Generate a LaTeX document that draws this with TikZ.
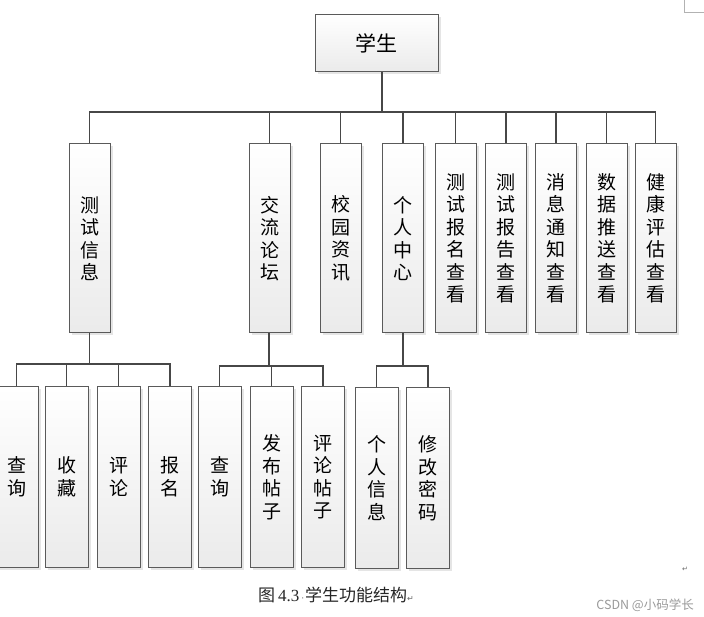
\documentclass[tikz,border=0pt]{standalone}
\usepackage{fontspec}
\setmainfont{Liberation Serif}
\newfontfamily\cjk{Noto Sans CJK SC}
\newfontfamily\symf{DejaVu Sans}
\usetikzlibrary{shadows}
\definecolor{boxgray}{HTML}{5A5A5A}
\definecolor{linegray}{HTML}{474747}
\begin{document}
\begin{tikzpicture}[x=1pt,y=-1pt,
  box/.style={draw=boxgray, line width=1pt, top color=white, bottom color=black!8,
    drop shadow={shadow xshift=2.5pt, shadow yshift=-2.5pt, fill=black!20, opacity=0.5},
    inner sep=0pt, align=center, font=\cjk\fontsize{19}{22.5}\selectfont},
  tall/.style={box, minimum width=41pt, minimum height=189pt},
  leaf/.style={box, minimum width=43pt, minimum height=180pt},
  conn/.style={draw=linegray, line width=1.4pt}]
\useasboundingbox (0,0) rectangle (704,617);
\clip (0,0) rectangle (704,617);
% root
\node[box, minimum width=123pt, minimum height=57pt, font=\cjk\fontsize{21}{24}\selectfont] (root) at (376.5,43.5) {学生};
% level 2
\node[tall] (c1) at (89.5,238.5) {测\\试\\信\\息};
\node[tall] (c2) at (269.5,238.5) {交\\流\\论\\坛};
\node[tall] (c3) at (340.5,238.5) {校\\园\\资\\讯};
\node[tall] (c4) at (403,238.5) {个\\人\\中\\心};
\node[tall] (c5) at (455.5,238.5) {测\\试\\报\\名\\查\\看};
\node[tall] (c6) at (506,238.5) {测\\试\\报\\告\\查\\看};
\node[tall] (c7) at (556,238.5) {消\\息\\通\\知\\查\\看};
\node[tall] (c8) at (606.5,238.5) {数\\据\\推\\送\\查\\看};
\node[tall] (c9) at (655.5,238.5) {健\\康\\评\\估\\查\\看};
% level 3
\node[leaf] (d1) at (16.5,477) {查\\询};
\node[leaf] (d2) at (66.5,477) {收\\藏};
\node[leaf] (d3) at (118.5,477) {评\\论};
\node[leaf] (d4) at (170,477) {报\\名};
\node[leaf] (e1) at (219.5,477) {查\\询};
\node[leaf] (e2) at (271.5,477) {发\\布\\帖\\子};
\node[leaf] (e3) at (323,477) {评\\论\\帖\\子};
\node[leaf] (f1) at (376.5,478) {个\\人\\信\\息};
\node[leaf] (f2) at (428,478) {修\\改\\密\\码};
% buses
\coordinate (bus) at (382,112);
\coordinate (busd) at (89.5,364);
\coordinate (buse) at (269,366);
\coordinate (busf) at (403,366);
% root connectors
\draw[conn] (bus |- root.south) -- (bus);
\draw[conn] (c1.north) -- (c1.north |- bus) -- (c9.north |- bus) -- (c9.north);
\foreach \n in {c2,c3,c4,c5,c6,c7,c8} \draw[conn] (\n.north) -- (\n.north |- bus);
% 测试信息
\draw[conn] (c1.south) -- (busd);
\draw[conn] (d1.north) -- (d1.north |- busd) -- (d4.north |- busd) -- (d4.north);
\foreach \n in {d2,d3} \draw[conn] (\n.north) -- (\n.north |- busd);
% 交流论坛
\draw[conn] (buse |- c2.south) -- (buse);
\draw[conn] (e1.north) -- (e1.north |- buse) -- (e3.north |- buse) -- (e3.north);
\draw[conn] (e2.north) -- (e2.north |- buse);
% 个人中心
\draw[conn] (c4.south) -- (busf);
\draw[conn] (f1.north) -- (f1.north |- busf) -- (f2.north |- busf) -- (f2.north);
% caption and marks
\node[anchor=west, inner sep=0pt, font=\fontsize{17}{19}\selectfont, text=black!85] (cap) at (258,595)
  {{\cjk 图}\,4.3\hspace{2pt}{\symf\fontsize{9}{9}\selectfont\textcolor{black!60}{·}}\hspace{1pt}{\cjk 学生功能结构}{\symf\fontsize{8}{8}\selectfont\textcolor{black!60}{↵}}};
\node[anchor=east, inner sep=0pt, font=\cjk\fontsize{12.5}{13}\selectfont, text=black!40] (wm) at (694,605) {CSDN @小码学长};
\node[inner sep=0pt, font=\symf\fontsize{7}{8}\selectfont, text=black!60] (ret) at (685,569) {↵};
\coordinate (cm1) at (684,0);
\coordinate (cm2) at (684,12);
\coordinate (cm3) at (704,12);
\draw[black!30, line width=0.8pt] (cm1) -- (cm2) -- (cm3);
\end{tikzpicture}
\end{document}
